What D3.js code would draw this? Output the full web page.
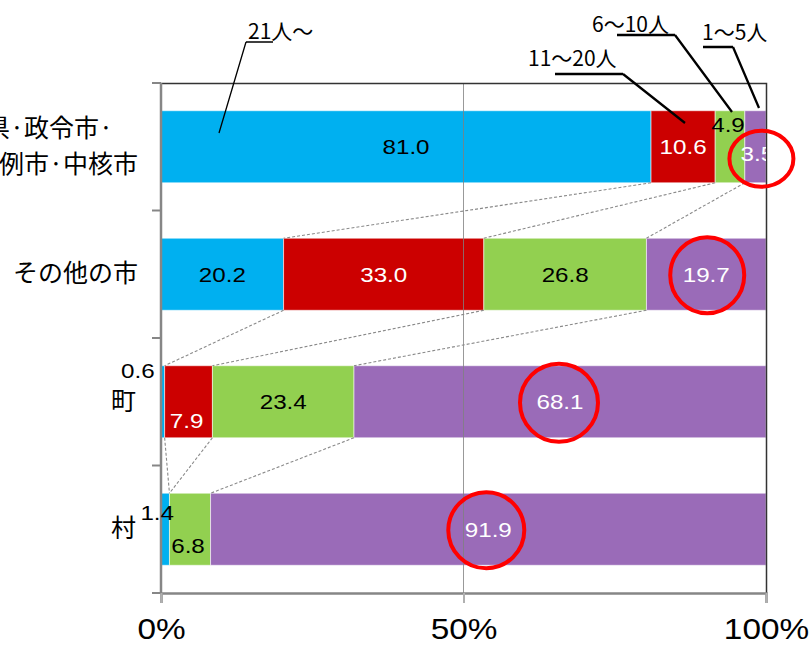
<!DOCTYPE html>
<html><head><meta charset="utf-8">
<script src="https://cdn.jsdelivr.net/npm/d3@7"></script>
<style>body{margin:0;background:#fff}svg{display:block}</style>
</head><body><svg id="chart" width="809" height="646"></svg>
<script>
// Share of organisations by staff size, per municipality type (%)
const categories = ["都道府県·政令市·特例市·中核市", "その他の市", "町", "村"];
const categoryLines = [["都道府県·政令市·", "特例市·中核市"], ["その他の市"], ["町"], ["村"]];
const seriesNames = ["21人～", "11～20人", "6～10人", "1～5人"];
const v21plus = [81.0, 20.2, 0.6, 1.4];
const v11to20 = [10.6, 33.0, 7.9, 0.0];
const v6to10  = [4.9, 26.8, 23.4, 6.8];
const v1to5   = [3.5, 19.7, 68.1, 91.9];
const xTicks = [0, 0.5, 1];

const seriesValues = [v21plus, v11to20, v6to10, v1to5];
const colors = ["#00B0F0", "#CC0000", "#92D050", "#9A6BB8"];
const labelColors = ["#000", "#fff", "#000", "#fff"];
const numFont = "'Liberation Sans', Arial, sans-serif";
const jpFont = "'Noto Sans CJK JP', sans-serif";

const W = 809, H = 646;
const m = {top: 83, right: 43, bottom: 53, left: 161};
const svg = d3.select("#chart");

const rows = categories.map((c, i) => {
  const r = {cat: c};
  seriesNames.forEach((s, k) => r[s] = seriesValues[k][i]);
  return r;
});
const stacked = d3.stack().keys(seriesNames).offset(d3.stackOffsetExpand)(rows);

const x = d3.scaleLinear().domain([0, 1]).range([m.left, W - m.right]);
const y = d3.scaleBand().domain(categories).range([m.top, H - m.bottom])
  .paddingInner(0.435).paddingOuter(0.2175);
const bw = y.bandwidth();
const gap = y.step() * y.paddingInner();

svg.append("defs").append("clipPath").attr("id", "plotclip")
  .append("rect").attr("x", 0).attr("y", 0).attr("width", x(1)).attr("height", H);

// bars
svg.append("g").selectAll("g").data(stacked).join("g")
  .attr("fill", (d, k) => colors[k])
  .selectAll("rect").data(d => d).join("rect")
  .attr("x", d => x(d[0])).attr("width", d => x(d[1]) - x(d[0]))
  .attr("y", d => y(d.data.cat)).attr("height", bw)
  .attr("stroke", "rgba(255,255,255,0.55)").attr("stroke-width", 1);

// 50% gridline
svg.append("line").attr("x1", x(0.5)).attr("x2", x(0.5))
  .attr("y1", m.top).attr("y2", H - m.bottom)
  .attr("stroke", "#7f7f7f").attr("stroke-opacity", 0.8).attr("stroke-width", 1);

// dashed connectors between cumulative boundaries of neighbouring bars
const conn = svg.append("g").attr("stroke", "#8a8a8a").attr("stroke-width", 1.1)
  .attr("stroke-dasharray", "3,2").attr("fill", "none");
for (let i = 0; i < categories.length - 1; i++) {
  for (let k = 0; k < seriesNames.length - 1; k++) {
    conn.append("line")
      .attr("x1", x(stacked[k][i][1])).attr("y1", y(categories[i]) + bw)
      .attr("x2", x(stacked[k][i + 1][1])).attr("y2", y(categories[i + 1]));
  }
}

// plot frame: top and right
svg.append("path")
  .attr("d", `M${x(0)},${m.top + 0.5}H${x(1) + 0.5}V${H - m.bottom}`)
  .attr("fill", "none").attr("stroke", "#333").attr("stroke-width", 1.5);

// left axis with band-boundary ticks
const yAxisG = svg.append("g").attr("stroke", "#868686");
yAxisG.append("line").attr("x1", x(0)).attr("x2", x(0))
  .attr("y1", m.top).attr("y2", H - m.bottom).attr("stroke-width", 2.5);
const bounds = categories.map(c => y(c) - gap / 2).concat([H - m.bottom]);
yAxisG.selectAll(".tk").data(bounds).join("line")
  .attr("x1", x(0) - 9).attr("x2", x(0)).attr("y1", d => d).attr("y2", d => d)
  .attr("stroke-width", 2);

// bottom axis
const xAxis = svg.append("g").attr("transform", `translate(0,${H - m.bottom})`)
  .call(d3.axisBottom(x).tickValues(xTicks).tickFormat(d3.format(".0%"))
    .tickSize(10).tickPadding(15));
xAxis.select(".domain").attr("stroke", "#868686").attr("stroke-width", 2.5);
xAxis.selectAll(".tick line").attr("stroke", "#b0b0b0").attr("stroke-width", 2);
xAxis.selectAll(".tick text").attr("font-family", numFont).attr("font-size", 29)
  .attr("fill", "#000").attr("dy", "0.72em")
  .attr("transform", "scale(1.15,1)");

// category labels (the long first label runs past the left edge)
const catG = svg.append("g").attr("font-family", jpFont).attr("font-size", 25).attr("fill", "#000");
const lineGap = 36;
const lineEnds = [[113, 138], [138], [136], [136]];
categories.forEach((c, i) => {
  const lines = categoryLines[i];
  const cy = y(c) + bw / 2 - 1;
  lines.forEach((t, j) => {
    catG.append("text").attr("x", lineEnds[i][j]).attr("text-anchor", "end")
      .attr("y", cy + (j - (lines.length - 1) / 2) * lineGap).attr("dy", "0.36em")
      .text(t);
  });
});

// value labels (small segments are nudged off their bar centre)
const nudge = {
  "0-2": {dx: -2, dy: -22}, "0-3": {dx: 2, dy: 7},
  "2-0": {dx: -25, dy: -31}, "2-1": {dx: -2, dy: 19},
  "3-0": {dx: -8, dy: -17}, "3-2": {dx: -2, dy: 16}
};
const labG = svg.append("g").attr("clip-path", "url(#plotclip)")
  .attr("font-family", numFont).attr("font-size", 20.5);
const labelPos = [];
stacked.forEach((s, k) => {
  s.forEach((d, i) => {
    const v = seriesValues[k][i];
    if (v <= 0) return;
    const n = nudge[`${i}-${k}`] || {dx: 0, dy: 0};
    const cx = (x(d[0]) + x(d[1])) / 2 + n.dx;
    const cy = y(categories[i]) + bw / 2 + n.dy;
    labelPos.push({k, i, cx, cy});
    labG.append("text").attr("transform", `translate(${cx},${cy}) scale(1.18,1)`)
      .attr("text-anchor", "middle").attr("dy", "0.36em")
      .attr("fill", labelColors[k]).text(d3.format(".1f")(v));
  });
});

// red rings around the 1～5人 values
const ringAdj = [{dx: 4, dy: 5, rx: 32, ry: 28}, {dx: 1, dy: 1, rx: 37, ry: 38},
                 {dx: -1, dy: 1, rx: 39, ry: 39}, {dx: -2, dy: 1, rx: 38, ry: 38}];
svg.append("g").selectAll("ellipse")
  .data(labelPos.filter(p => p.k === 3)).join("ellipse")
  .attr("cx", p => p.cx + ringAdj[p.i].dx).attr("cy", p => p.cy + ringAdj[p.i].dy)
  .attr("rx", p => ringAdj[p.i].rx).attr("ry", p => ringAdj[p.i].ry)
  .attr("fill", "none").attr("stroke", "#ff0000").attr("stroke-width", 4);

// series callouts with leader lines into the first bar
const callouts = [
  {tx: 248, ty: 31, ux1: 246, ux2: 273, uy: 42, px: 219, py: 133, sx: 246},
  {tx: 528, ty: 58, ux1: 555, ux2: 623, uy: 74, px: 685, py: 123, sx: 623},
  {tx: 592, ty: 24, ux1: 617, ux2: 675, uy: 35, px: 732, py: 112, sx: 675},
  {tx: 702, ty: 32, ux1: 703, ux2: 733, uy: 47, px: 759, py: 108, sx: 733}
];
const cg = svg.append("g");
callouts.forEach((c, k) => {
  cg.append("path")
    .attr("d", `M${c.ux1},${c.uy}H${c.ux2}M${c.sx},${c.uy}L${c.px},${c.py}`)
    .attr("fill", "none").attr("stroke", "#000").attr("stroke-width", k === 0 ? 1.3 : 2.3);
  cg.append("text").attr("x", c.tx).attr("y", c.ty).attr("dy", "0.36em")
    .attr("font-family", jpFont).attr("font-size", 21).attr("fill", "#000")
    .text(seriesNames[k]);
});
</script></body></html>
